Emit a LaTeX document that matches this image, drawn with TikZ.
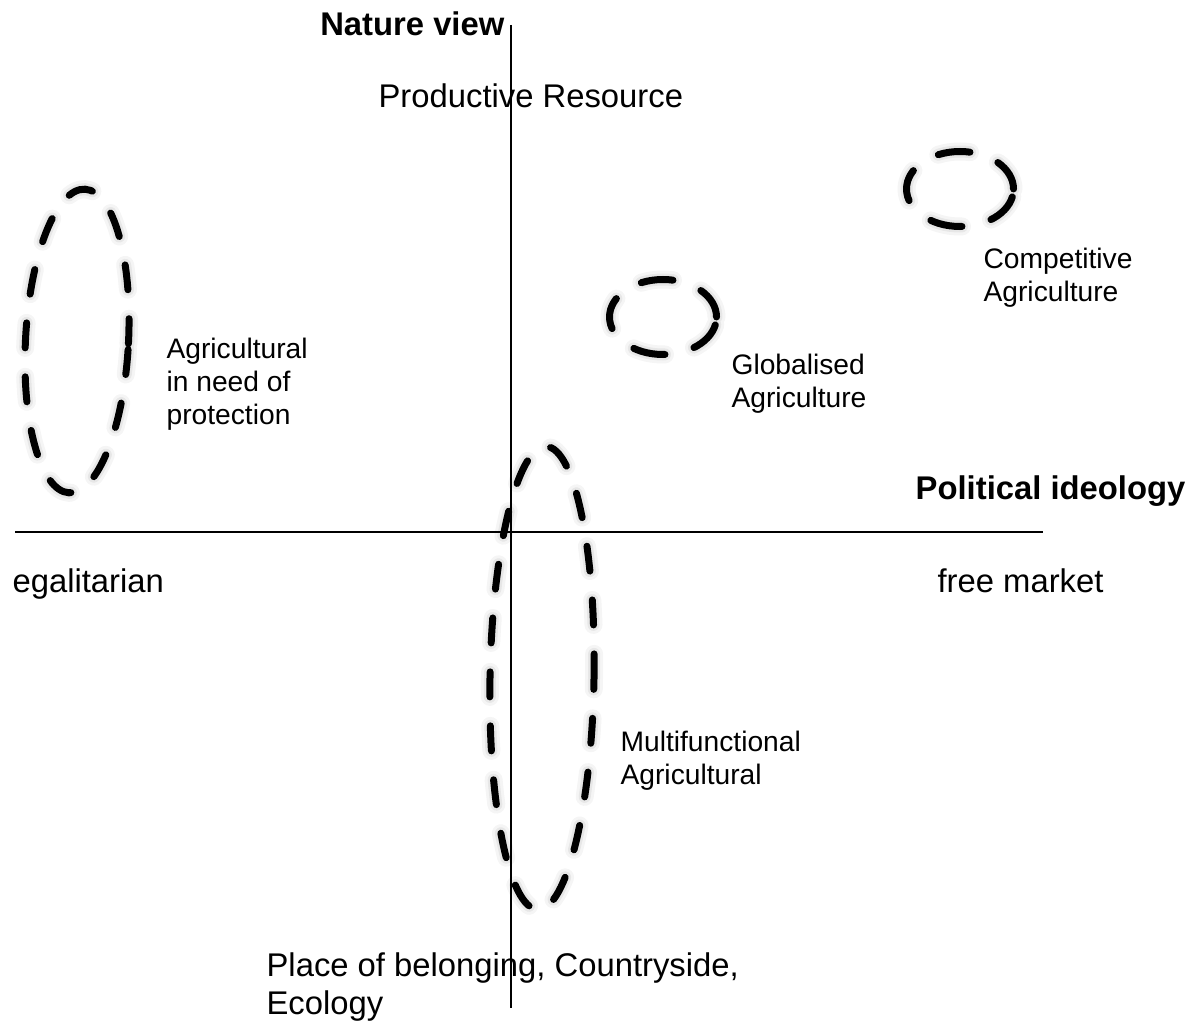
\documentclass[tikz,border=0pt]{standalone}
\usepackage{fontspec}
\setmainfont{Liberation Sans}
\usetikzlibrary{shapes.geometric}

\begin{document}
\begin{tikzpicture}[x=0.5pt,y=-0.5pt,semithick]
	\tikzstyle{axis}=[draw=black,line width=1pt]
	\tikzstyle{ring}=[ellipse,draw=black,line width=3.5pt,line cap=round,dash pattern=on 12.5pt off 14.5pt,inner sep=0pt,
		preaction={draw=black,opacity=.04,line width=9pt},preaction={draw=black,opacity=.06,line width=6pt}]
	\tikzstyle{heading}=[font=\fontsize{16.4}{19}\selectfont\bfseries,inner sep=0pt]
	\tikzstyle{pole}=[font=\fontsize{16.4}{19}\selectfont,inner sep=0pt,align=left]
	\tikzstyle{group}=[font=\fontsize{14.1}{16.3}\selectfont,inner sep=0pt,align=left]

	\useasboundingbox (0,0) rectangle (1197,1021);

	\coordinate (top) at (511,25);
	\coordinate (bottom) at (511,1008);
	\coordinate (left) at (15,532);
	\coordinate (right) at (1043,532);
	\draw[axis] (top) -- (bottom);
	\draw[axis] (left) -- (right);

	\node[heading,anchor=base east] (natureview) at (505,36) {Nature view};
	\node[heading,anchor=base east] (political) at (1186,499) {Political ideology};
	\node[pole,anchor=base west] (productive) at (378,108) {Productive Resource};
	\node[pole,anchor=base west] (egalitarian) at (12,592) {egalitarian};
	\node[pole,anchor=base west] (freemarket) at (937,592) {free market};
	\node[pole,anchor=base west] (belonging) at (266,1014) {Place of belonging, Countryside,\\Ecology};

	\node[ring,minimum width=51.5pt,minimum height=152pt,rotate=-3] (protectring) at (77,341) {};
	\node[ring,minimum width=52pt,minimum height=231.5pt,rotate=-1] (multiring) at (542,678) {};
	\node[ring,minimum width=53.5pt,minimum height=37.5pt,dash pattern=on 16pt off 15pt] (globalring) at (663,317) {};
	\node[ring,minimum width=53.5pt,minimum height=37.5pt,dash pattern=on 16pt off 15pt] (competering) at (960,189) {};

	\node[group,anchor=base west] (protect) at (166,424) {Agricultural\\in need of\\protection};
	\node[group,anchor=base west] (multi) at (620,784) {Multifunctional\\Agricultural};
	\node[group,anchor=base west] (global) at (731,407) {Globalised\\Agriculture};
	\node[group,anchor=base west] (compete) at (983,301) {Competitive\\Agriculture};
\end{tikzpicture}
\end{document}
